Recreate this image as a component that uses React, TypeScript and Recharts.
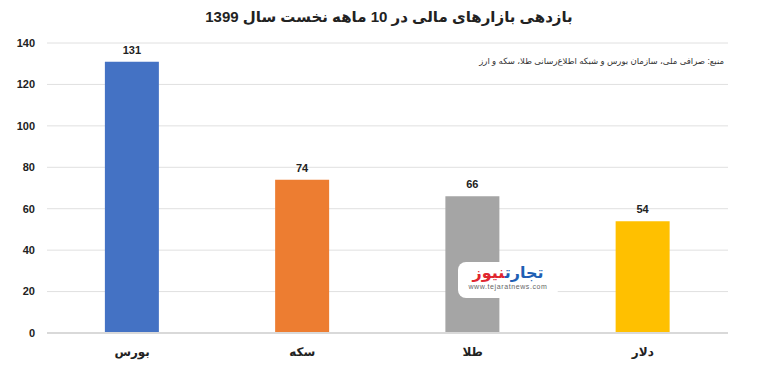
import { Bar, BarChart, CartesianGrid, Cell, LabelList, XAxis, YAxis } from "recharts";

const CATEGORIES = ["بورس", "سکه", "طلا", "دلار"];
const RETURNS = [131, 74, 66, 54];
const COLORS = ["#4472C4", "#ED7D31", "#A5A5A5", "#FFC000"];
const Y_TICKS = [0, 20, 40, 60, 80, 100, 120, 140];

const TITLE = "بازدهی بازارهای مالی در 10 ماهه نخست سال 1399";
const SOURCE = "منبع: صرافی ملی، سازمان بورس و شبکه اطلاع‌رسانی طلا، سکه و ارز";

const FONT = "Arial, 'Liberation Sans', 'DejaVu Sans', sans-serif";

const data = CATEGORIES.map((name, i) => ({ name, value: RETURNS[i] }));

export default function App() {
  return (
    <div style={{ position: "relative", width: 768, height: 373, background: "#fff", fontFamily: FONT }}>
      <style>{`body{margin:0}`}</style>
      <div
        style={{
          position: "absolute",
          top: 8,
          left: 0,
          width: 778,
          textAlign: "center",
          fontSize: 15,
          fontWeight: 700,
          color: "#222",
          direction: "rtl",
        }}
      >
        {TITLE}
      </div>
      <div
        style={{
          position: "absolute",
          top: 56,
          right: 44,
          fontSize: 8.5,
          color: "#333",
          direction: "rtl",
        }}
      >
        {SOURCE}
      </div>
      <BarChart
        width={768}
        height={373}
        data={data}
        margin={{ top: 43, right: 40, left: 0, bottom: 0 }}
        barCategoryGap="34%"
      >
        <CartesianGrid vertical={false} stroke="#e0e0e0" />
        <XAxis
          dataKey="name"
          tickLine={false}
          axisLine={{ stroke: "#d9d9d9", strokeWidth: 2 }}
          height={40}
          tickMargin={8}
          tick={{ fontSize: 12, fontWeight: 700, fill: "#222", fontFamily: FONT }}
        />
        <YAxis
          domain={[0, 140]}
          ticks={Y_TICKS}
          width={47}
          tickLine={false}
          axisLine={false}
          tickMargin={6}
          tick={{ fontSize: 11, fontWeight: 700, fill: "#222", fontFamily: FONT }}
        />
        <Bar dataKey="value" isAnimationActive={false}>
          {data.map((d, i) => (
            <Cell key={d.name} fill={COLORS[i]} />
          ))}
          <LabelList
            dataKey="value"
            position="top"
            offset={8}
            style={{ fontSize: 11, fontWeight: 700, fill: "#222", fontFamily: FONT }}
          />
        </Bar>
      </BarChart>
      <div
        style={{
          position: "absolute",
          left: 458,
          top: 262,
          width: 100,
          height: 36,
          background: "#fff",
          borderRadius: 8,
          textAlign: "center",
          lineHeight: 1,
        }}
      >
        <div style={{ direction: "rtl", fontSize: 16, fontWeight: 700, marginTop: 3 }}>
          <span style={{ color: "#1f5fb4" }}>تجارت</span>
          <span style={{ color: "#e0262f" }}>نیوز</span>
        </div>
        <div style={{ fontSize: 7, color: "#666", letterSpacing: 0.6, marginTop: 2 }}>www.tejaratnews.com</div>
      </div>
    </div>
  );
}
